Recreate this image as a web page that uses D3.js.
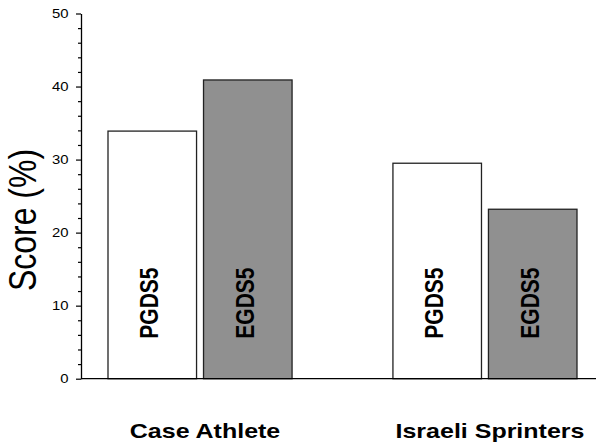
<!DOCTYPE html>
<html>
<head>
<meta charset="utf-8">
<script src="https://cdn.jsdelivr.net/npm/d3@7"></script>
<style>
  body { margin: 0; background: #fff; }
  svg { display: block; font-family: Arial, "Liberation Sans", sans-serif; }
</style>
</head>
<body>
<svg id="chart" width="596" height="448"></svg>
<script>
const groups = ["Case Athlete", "Israeli Sprinters"];
const measures = ["PGDS5", "EGDS5"];
const pgds5_values = [33.9, 29.5];
const egds5_values = [40.9, 23.2];
const y_ticks = [0, 10, 20, 30, 40, 50];
const y_label = "Score (%)";

const fills = { "PGDS5": "#ffffff", "EGDS5": "#909090" };
// the reference type looks stretched sideways
const STRETCH = "scale(1.19,1)";

var svg = d3.select("svg#chart");
const svg_width = 596;

var rows = groups.map((g, i) => ({
    group: g,
    bars: [
        { key: "PGDS5", value: pgds5_values[i] },
        { key: "EGDS5", value: egds5_values[i] }
    ]
}));

const axis_x = 81;
var y = d3.scaleLinear().domain([0, 50]).range([378.7, 13.5]);

var x0 = d3.scaleBand().domain(groups).range([108, 577]).paddingInner(0.354).paddingOuter(0);
var x1 = d3.scaleBand().domain(measures).range([0, x0.bandwidth()]).paddingInner(0.073);

// minor ticks every 2
var y_minor = d3.range(0, 50.01, 2).filter(v => y_ticks.indexOf(v) < 0);
var minor_axis = svg.append("g")
    .attr("transform", "translate(" + axis_x + ",0)")
    .call(d3.axisLeft(y).tickValues(y_minor).tickSize(3).tickFormat(""));
minor_axis.select(".domain").remove();
minor_axis.selectAll("line").attr("stroke", "#000").attr("stroke-width", 1.2);

var y_axis = svg.append("g")
    .attr("transform", "translate(" + axis_x + ",0)")
    .call(d3.axisLeft(y).tickValues(y_ticks).tickSize(5).tickSizeOuter(0).tickFormat(""));
y_axis.select(".domain").attr("stroke", "#000").attr("stroke-width", 1.3);
y_axis.selectAll("line").attr("stroke", "#000").attr("stroke-width", 1.2);

svg.selectAll("text.tick_label")
    .data(y_ticks)
    .enter().append("text")
    .attr("class", "tick_label")
    .attr("transform", d => "translate(68.5," + y(d) + ") " + STRETCH)
    .attr("dy", "0.36em")
    .attr("text-anchor", "end")
    .attr("font-size", 12.5)
    .attr("fill", "#000")
    .text(d => d);

// bars
var g_groups = svg.selectAll("g.group")
    .data(rows)
    .enter().append("g")
    .attr("class", "group")
    .attr("transform", d => "translate(" + x0(d.group) + ",0)");

g_groups.selectAll("rect")
    .data(d => d.bars)
    .enter().append("rect")
    .attr("x", d => x1(d.key))
    .attr("y", d => y(d.value))
    .attr("width", x1.bandwidth())
    .attr("height", d => y(0) - y(d.value))
    .attr("fill", d => fills[d.key])
    .attr("stroke", "#222")
    .attr("stroke-width", 1.3);

g_groups.selectAll("text.bar_label")
    .data(d => d.bars)
    .enter().append("text")
    .attr("class", "bar_label")
    .attr("transform", d => "translate(" + (x1(d.key) + x1.bandwidth() / 2 + 6) + "," + (y(0) - 40) + ") " + STRETCH + " rotate(-90)")
    .attr("text-anchor", "start")
    .attr("font-weight", "bold")
    .attr("font-size", 21)
    .attr("fill", "#000")
    .text(d => d.key);

// baseline
svg.append("line")
    .attr("x1", axis_x).attr("x2", svg_width)
    .attr("y1", y(0)).attr("y2", y(0))
    .attr("stroke", "#000")
    .attr("stroke-width", 1.3);

// category labels
svg.selectAll("text.cat_label")
    .data(groups)
    .enter().append("text")
    .attr("class", "cat_label")
    .attr("transform", d => "translate(" + (x0(d) + x0.bandwidth() / 2 + 5) + ",437.7) " + STRETCH)
    .attr("text-anchor", "middle")
    .attr("font-weight", "bold")
    .attr("font-size", 21)
    .attr("fill", "#000")
    .text(d => d);

// y label
svg.append("text")
    .attr("transform", "translate(36,220) " + STRETCH + " rotate(-90)")
    .attr("text-anchor", "middle")
    .attr("font-size", 32)
    .attr("fill", "#000")
    .text(y_label);
</script>
</body>
</html>
